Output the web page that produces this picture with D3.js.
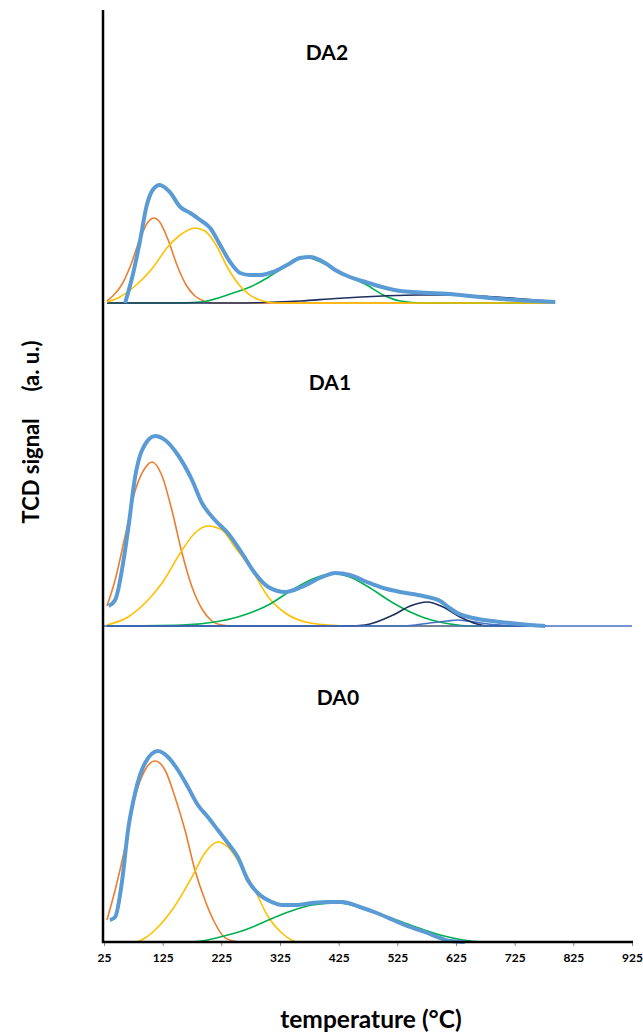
<!DOCTYPE html>
<html>
<head>
<meta charset="utf-8">
<script src="https://cdn.jsdelivr.net/npm/d3@7/dist/d3.min.js"></script>
<style>
  body { margin: 0; background: #fff; }
  text { font-family: Lato, "Open Sans", sans-serif; }
</style>
</head>
<body>
<div id="chart"></div>
<script>
var width = 643;
var height = 1034;

// temperature ticks (°C)
var tempTicks = [25, 125, 225, 325, 425, 525, 625, 725, 825, 925];

// ---- DA2 : [temperature, TCD signal] ----
var da2Total = [[61,0],[74,28],[86,61],[98,98],[108,113],[120,118],[137,111],[155,96],[172,90],[189,83],[206,75],[223,58],[240,41],[257,30],[274,28],[291,28],[313,31],[337,38],[359,45],[376,46],[402,40],[419,33],[444,26],[465,22],[530,12],[615,9],[700,4],[794,1]];
var da2Peak1 = [[30,2],[40,7],[55,18],[70,37],[85,62],[100,81],[110,85],[120,81],[135,62],[150,37],[165,18],[180,7],[195,2],[210,0],[794,0]];
var da2Peak2 = [[30,1],[52,6],[74,15],[108,35],[132,55],[155,68],[180,75],[197,72],[218,56],[235,36],[257,17],[286,4],[320,0],[794,0]];
var da2Peak3 = [[30,0],[143,0],[189,1],[245,10],[274,16],[303,25],[330,35],[359,45],[368,46],[376,45],[405,38],[444,26],[473,18],[501,8],[530,2],[569,0],[794,0]];
var da2Peak4 = [[30,0],[250,0],[300,0.5],[360,2],[420,4.5],[500,7],[560,8],[620,8],[680,6.5],[740,4],[794,1.5]];

// ---- DA1 ----
var da1Total = [[33,20],[44,26],[66,96],[78,149],[90,176],[112,190],[129,186],[151,171],[175,146],[192,123],[214,106],[236,93],[260,73],[282,53],[305,39],[334,34],[362,39],[397,49],[419,53],[444,51],[473,44],[501,38],[530,34],[569,30],[598,25],[614,18],[627,13],[654,8],[700,4],[734,2],[777,0]];
var da1Peak1 = [[30,20],[44,46],[61,90],[78,135],[95,158],[107,164],[124,150],[141,115],[158,73],[175,39],[192,17],[209,5],[226,1],[245,0],[777,0]];
var da1Peak2 = [[30,1],[66,9],[100,26],[124,43],[155,73],[180,93],[202,100],[226,96],[248,79],[277,56],[305,29],[334,13],[368,4],[407,1],[450,0],[777,0]];
var da1Peak3 = [[30,0],[158,1],[214,4],[253,9],[305,21],[351,38],[385,48],[407,52],[415,53],[425,52],[444,49],[473,40],[518,23],[547,14],[572,8],[615,2],[649,0],[777,0]];
var da1Peak4 = [[30,0],[440,0],[470,1],[518,11],[547,20],[576,24],[603,19],[632,9],[661,2],[678,0],[777,0]];
var da1Peak5 = [[30,0],[530,0],[547,0.5],[580,3],[610,5],[627,6],[645,5],[680,2],[717,0.5],[740,0],[777,0]];
var da1Base = [[25,0],[925,0]];

// ---- DA0 ----
var da0Total = [[35,22],[44,25],[56,62],[66,112],[78,149],[95,179],[117,191],[134,185],[151,172],[168,155],[185,137],[202,125],[219,112],[236,99],[253,85],[270,62],[287,49],[311,40],[328,37],[351,37],[380,39],[407,40],[431,40],[461,35],[490,29],[518,22],[547,15],[576,9],[598,4],[615,1],[640,0]];
var da0Peak1 = [[30,22],[44,52],[61,95],[78,145],[95,172],[112,181],[129,172],[146,145],[163,112],[180,72],[197,42],[214,19],[228,6],[245,1],[260,0],[700,0]];
var da0Peak2 = [[30,0],[78,0],[95,4],[112,12],[141,32],[175,65],[197,89],[219,100],[236,95],[260,75],[282,52],[305,25],[328,9],[356,0],[700,0]];
var da0Peak3 = [[30,0],[175,0],[236,7],[274,14],[294,19],[339,30],[380,37],[424,39],[490,29],[547,17],[598,7],[637,2],[671,0],[700,0]];

var colors = {
  total: "#5B9BD5",
  p1: "#ED7D31",
  p2: "#FFC000",
  p3: "#00B050",
  p4: "#1F3060",
  p5: "#4472C4",
  base: "#4472C4"
};

var panels = [
  { name: "DA2", base: 303, titleX: 327, titleY: 60,
    lines: [[da2Peak1, colors.p1], [da2Peak3, colors.p3], [da2Peak4, colors.p4], [da2Peak2, colors.p2]],
    total: da2Total },
  { name: "DA1", base: 626, titleX: 330, titleY: 390,
    lines: [[da1Peak1, colors.p1], [da1Peak2, colors.p2], [da1Peak3, colors.p3], [da1Peak5, colors.p5], [da1Peak4, colors.p4], [da1Base, colors.base]],
    total: da1Total },
  { name: "DA0", base: 942, titleX: 338, titleY: 705,
    lines: [[da0Peak1, colors.p1], [da0Peak2, colors.p2], [da0Peak3, colors.p3]],
    total: da0Total }
];

var svg = d3.select("#chart")
  .append("svg")
  .attr("width", width)
  .attr("height", height);

var xScale = d3.scaleLinear().domain([25, 925]).range([104, 632]);
var yScale = d3.scaleLinear().domain([0, 200]).range([0, -200]);

var line = d3.line()
  .x(d => xScale(d[0]))
  .y(d => yScale(d[1]))
  .curve(d3.curveMonotoneX);

panels.forEach(function(p) {
  var g = svg.append("g").attr("transform", "translate(0," + p.base + ")");

  p.lines.forEach(function(l) {
    g.append("path")
      .attr("d", line(l[0]))
      .attr("fill", "none")
      .attr("stroke", l[1])
      .attr("stroke-width", 1.6);
  });

  g.append("path")
    .attr("d", line(p.total))
    .attr("fill", "none")
    .attr("stroke", colors.total)
    .attr("stroke-width", 4)
    .attr("stroke-linejoin", "round");

  svg.append("text")
    .text(p.name)
    .attr("x", p.titleX)
    .attr("y", p.titleY)
    .attr("text-anchor", "middle")
    .attr("font-size", 21)
    .attr("font-weight", "bold");
});

// x axis
var xAxis = d3.axisBottom(xScale).tickValues(tempTicks).tickSize(4).tickSizeOuter(0);
var axisG = svg.append("g")
  .attr("transform", "translate(0,942)")
  .call(xAxis);
axisG.select(".domain").remove();
axisG.selectAll(".tick line").attr("stroke", "#888");
axisG.selectAll(".tick text")
  .attr("y", 11)
  .attr("font-size", 12)
  .attr("font-weight", "bold")
  .attr("fill", "#000")
  .attr("font-family", "Lato, sans-serif");

svg.append("line")
  .attr("x1", 102).attr("x2", 633)
  .attr("y1", 942).attr("y2", 942)
  .attr("stroke", "#000").attr("stroke-width", 2.5);

// y axis
svg.append("line")
  .attr("x1", 103).attr("x2", 103)
  .attr("y1", 10).attr("y2", 943)
  .attr("stroke", "#000").attr("stroke-width", 2.5);

svg.append("text")
  .text("TCD signal\u00A0\u00A0\u00A0\u00A0\u00A0(a. u.)")
  .attr("transform", "translate(39,432) rotate(-90)")
  .attr("text-anchor", "middle")
  .attr("font-size", 22)
  .attr("font-weight", "bold");

svg.append("text")
  .text("temperature (°C)")
  .attr("x", 371)
  .attr("y", 1028)
  .attr("text-anchor", "middle")
  .attr("font-size", 24.5)
  .attr("font-weight", "bold");
</script>
</body>
</html>
